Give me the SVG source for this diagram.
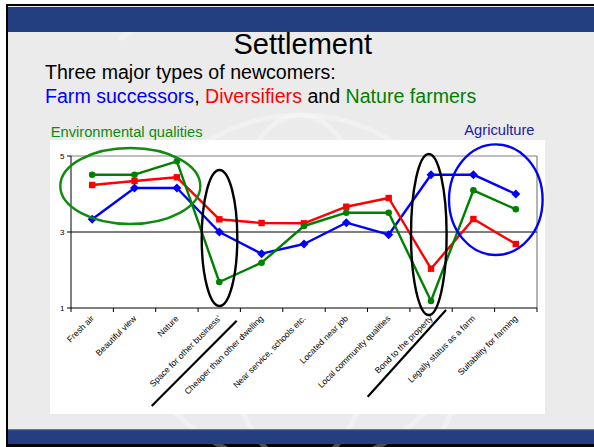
<svg xmlns="http://www.w3.org/2000/svg" width="594" height="447" viewBox="0 0 594 447">
<style>
.t{font-family:"Liberation Sans",Arial,sans-serif}
.xl{font-family:"Liberation Sans",Arial,sans-serif;font-size:8.6px;fill:#000;text-anchor:end}
.yl{font-family:"Liberation Sans",Arial,sans-serif;font-size:8px;fill:#000;text-anchor:end}
.ser{fill:none;stroke-width:2.4;stroke-linejoin:round}
.wm{fill:none;stroke:#fff;stroke-opacity:0.3;stroke-width:5}
.ell{fill:none;stroke-width:2.4}
</style>
<defs>
<path id="dia" d="M0,-4.5 L4.5,0 L0,4.5 L-4.5,0Z" fill="#0000FF"/>
<rect id="sq" x="-3.2" y="-3.2" width="6.4" height="6.4" fill="#FF0000"/>
<circle id="dot" r="3.3" fill="#008000"/>
</defs>
<!-- background -->
<rect x="0" y="0" width="594" height="447" fill="#ffffff"/>
<rect x="6" y="4" width="588" height="443" fill="#000"/>
<rect x="8" y="6" width="586" height="438" fill="#ebebeb"/>
<g id="watermark">
<circle class="wm" cx="300" cy="290" r="175"/>
<ellipse class="wm" cx="300" cy="290" rx="80" ry="175"/>
<path class="wm" d="M120,40 Q130,28 150,25"/>
<path class="wm" d="M440,440 Q450,405 470,395"/>
</g>
<rect id="header" x="8" y="7" width="586" height="25" fill="#243f80"/>
<rect id="footer" x="8" y="429" width="586" height="15" fill="#243f80"/>
<rect x="8" y="429" width="586" height="1.2" fill="#5a78b0"/>
<!-- titles -->
<g id="title">
<text class="t" x="302.8" y="54.3" font-size="29" text-anchor="middle" fill="#000">Settlement</text>
<text class="t" x="45" y="79" font-size="19.6" fill="#000">Three major types of newcomers:</text>
<text class="t" x="45" y="103" font-size="19.6"><tspan fill="#0000FF">Farm successors</tspan><tspan fill="#000">, </tspan><tspan fill="#FF0000">Diversifiers</tspan><tspan fill="#000"> and </tspan><tspan fill="#008000">Nature farmers</tspan></text>
<text class="t" x="50.7" y="136.5" font-size="14.7" fill="#108a10">Environmental qualities</text>
<text class="t" x="464.3" y="134.5" font-size="14.7" fill="#2020a0">Agriculture</text>
</g>
<!-- chart -->
<g id="chart">
<rect x="50" y="140" width="495" height="274" fill="#fff"/>
<line x1="71" y1="156" x2="537" y2="156" stroke="#808080" stroke-width="1.2"/>
<line x1="537" y1="156" x2="537" y2="308" stroke="#808080" stroke-width="1.2"/>
<line x1="71" y1="232" x2="537" y2="232" stroke="#000" stroke-width="1"/>
<line x1="71" y1="156" x2="71" y2="308" stroke="#000" stroke-width="1"/>
<line x1="71" y1="308" x2="537" y2="308" stroke="#000" stroke-width="1"/>
<path d="M67,156H71M67,232H71M67,308H71" stroke="#000" stroke-width="1"/>
<path d="M71,308V312M113.4,308V312M155.7,308V312M198.1,308V312M240.4,308V312M282.8,308V312M325.2,308V312M367.5,308V312M409.9,308V312M452.2,308V312M494.6,308V312M537,308V312" stroke="#000" stroke-width="1"/>
<text class="yl" x="64.5" y="159">5</text>
<text class="yl" x="64.5" y="235">3</text>
<text class="yl" x="64.5" y="311">1</text>
</g>
<g id="xlabels">
<text class="xl" transform="translate(94.5,319) rotate(-45)">Fresh air</text>
<text class="xl" transform="translate(136.8,319) rotate(-45)">Beautiful view</text>
<text class="xl" transform="translate(179.2,319) rotate(-45)">Nature</text>
<text class="xl" transform="translate(221.6,319) rotate(-45)">Space for other business'</text>
<text class="xl" transform="translate(263.9,319) rotate(-45)">Cheaper than other dwelling</text>
<text class="xl" transform="translate(306.3,319) rotate(-45)">Near service, schools etc.</text>
<text class="xl" transform="translate(348.6,319) rotate(-45)">Located near job</text>
<text class="xl" transform="translate(391,319) rotate(-45)">Local community qualities</text>
<text class="xl" transform="translate(433.3,319) rotate(-45)">Bond to the property</text>
<text class="xl" transform="translate(475.7,319) rotate(-45)">Legally status as a farm</text>
<text class="xl" transform="translate(518.1,319) rotate(-45)">Suitability for farming</text>
</g>
<g id="connectors">
<polyline class="ser" stroke="#0000FF" points="92.2,219.3 134.5,188 176.9,188 219.3,232 261.6,253.7 304,244 346.3,222.7 388.7,234.7 431,174.7 473.4,174.7 515.8,194"/>
<polyline class="ser" stroke="#FF0000" points="92.2,185 134.5,181 176.9,177.3 219.3,219.3 261.6,223 304,223.3 346.3,206.7 388.7,198 431,268.7 473.4,219 515.8,244"/>
<polyline class="ser" stroke="#008000" points="92.2,174.7 134.5,174.7 176.9,161.3 219.3,282 261.6,262.7 304,226 346.3,212.7 388.7,212.7 431,301 473.4,190.3 515.8,209.3"/>
</g>
<g id="series-farm-successors">
<use href="#dia" x="92.2" y="219.3"/><use href="#dia" x="134.5" y="188"/><use href="#dia" x="176.9" y="188"/><use href="#dia" x="219.3" y="232"/><use href="#dia" x="261.6" y="253.7"/><use href="#dia" x="304" y="244"/><use href="#dia" x="346.3" y="222.7"/><use href="#dia" x="388.7" y="234.7"/><use href="#dia" x="431" y="174.7"/><use href="#dia" x="473.4" y="174.7"/><use href="#dia" x="515.8" y="194"/>
</g>
<g id="series-diversifiers">
<use href="#sq" x="92.2" y="185"/><use href="#sq" x="134.5" y="181"/><use href="#sq" x="176.9" y="177.3"/><use href="#sq" x="219.3" y="219.3"/><use href="#sq" x="261.6" y="223"/><use href="#sq" x="304" y="223.3"/><use href="#sq" x="346.3" y="206.7"/><use href="#sq" x="388.7" y="198"/><use href="#sq" x="431" y="268.7"/><use href="#sq" x="473.4" y="219"/><use href="#sq" x="515.8" y="244"/>
</g>
<g id="series-nature-farmers">
<use href="#dot" x="92.2" y="174.7"/><use href="#dot" x="134.5" y="174.7"/><use href="#dot" x="176.9" y="161.3"/><use href="#dot" x="219.3" y="282"/><use href="#dot" x="261.6" y="262.7"/><use href="#dot" x="304" y="226"/><use href="#dot" x="346.3" y="212.7"/><use href="#dot" x="388.7" y="212.7"/><use href="#dot" x="431" y="301"/><use href="#dot" x="473.4" y="190.3"/><use href="#dot" x="515.8" y="209.3"/>
</g>
<g id="annotations">
<ellipse class="ell" cx="130.3" cy="186" rx="70" ry="38" stroke="#108a10"/>
<ellipse class="ell" cx="219.5" cy="238" rx="17.8" ry="68" stroke="#000"/>
<ellipse class="ell" cx="428.8" cy="234.5" rx="17.8" ry="80.5" stroke="#000"/>
<ellipse class="ell" cx="495.8" cy="199.7" rx="46.8" ry="55.3" stroke="#0000FF"/>
<line x1="151.7" y1="406" x2="236.7" y2="320.7" stroke="#000" stroke-width="2.2"/>
<line x1="367.7" y1="396.7" x2="446" y2="310" stroke="#000" stroke-width="2.2"/>
</g>
</svg>
